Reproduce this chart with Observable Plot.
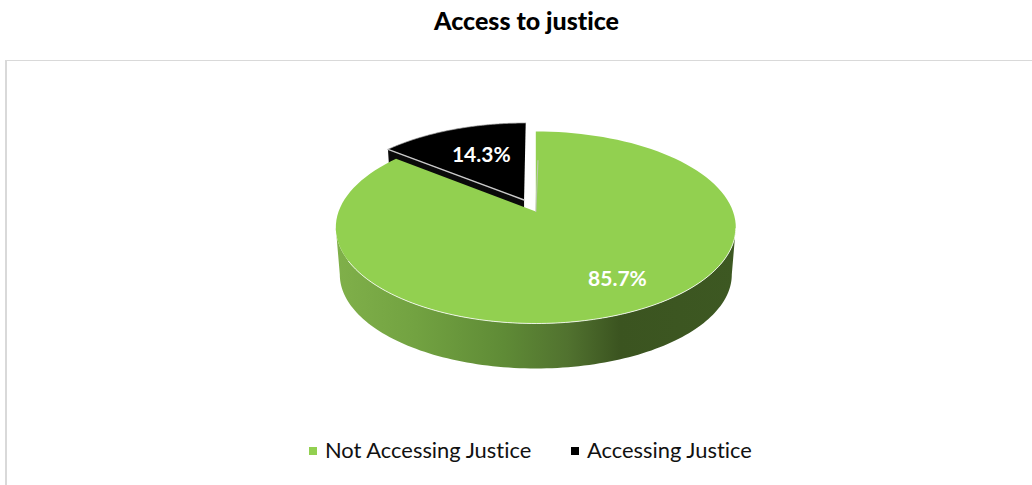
<!DOCTYPE html>
<html>
<head>
<meta charset="utf-8">
<script src="https://cdn.jsdelivr.net/npm/d3@7"></script>
<script src="https://cdn.jsdelivr.net/npm/@observablehq/plot@0.6"></script>
<style>
  html, body { margin: 0; padding: 0; background: #fff; overflow: hidden; }
  #page { position: relative; width: 1032px; height: 485px; font-family: Lato, "Open Sans", sans-serif; font-variant-ligatures: none; }
  #title { position: absolute; left: 0; top: 5px; width: 1053px; text-align: center; font-size: 25px; font-weight: 900; color: #000; line-height: 30px; }
  #frame { position: absolute; left: 5px; top: 60px; right: 0; bottom: 0; border-top: 1px solid #d9d9d9; border-left: 2px solid #d9d9d9; }
  #chart { position: absolute; left: 0; top: 60px; }
  #chart svg { display: block; }
  #legend { position: absolute; left: 0; top: 436px; width: 1032px; height: 30px; font-size: 21.9px; color: #111; }
  #legend span { position: absolute; top: 0; line-height: 28px; white-space: nowrap; }
  #legend i { position: absolute; top: 11px; width: 8px; height: 8px; }
</style>
</head>
<body>
<div id="page">
  <div id="title">Access to justice</div>
  <div id="frame"></div>
  <div id="chart"></div>
  <div id="legend"></div>
</div>
<script>
// Slices, in clockwise order from twelve o'clock.
const categories = ["Not Accessing Justice", "Accessing Justice"];
const shares = [85.7, 14.3];
const sliceColors = ["#92d050", "#000000"];

// Tilted disc: how much nearer the front rim looks than the back rim,
// how far the lifted slice is pulled out, and how the disc's underside sits.
const perspective = 1 / 6;
const explode = 0.14;
const floorScale = 0.98;
const floorDrop = 0.506;

const total = d3.sum(shares);
const turn = (s) => (s / total) * 2 * Math.PI;
const stops = d3.cumsum(shares).map(turn);
const slices = categories.map((name, i) => {
  const a0 = i ? stops[i - 1] : 0;
  const a1 = stops[i];
  const mid = (a0 + a1) / 2;
  return {
    name, share: shares[i], color: sliceColors[i], a0, a1,
    ox: i ? explode * Math.sin(mid) : 0,
    oy: i ? explode * Math.cos(mid) : 0,
    mid
  };
});

// Project a point of the disc plane to the chart's x/y scale units.
function project(u, v, floor = false) {
  const w = 1 + perspective * v;
  const s = floor ? floorScale : 1;
  return { x: (s * u) / w, y: (s * v) / w - (floor ? floorDrop : 0) };
}
const rimPoint = (a, ox = 0, oy = 0, floor = false) =>
  project(Math.sin(a) + ox, Math.cos(a) + oy, floor);
const arc = (a0, a1, ox, oy, floor) =>
  d3.range(0, 121).map((i) => rimPoint(a0 + ((a1 - a0) * i) / 120, ox, oy, floor));
const wedge = (s) => [project(s.ox, s.oy), ...arc(s.a0, s.a1, s.ox, s.oy, false)];

const [main, lifted] = slices;

// Curved wall between the widest points of the top face.
const widest = Math.acos(-perspective);
const wall = [
  ...arc(widest, 2 * Math.PI - widest, 0, 0, false),
  ...arc(2 * Math.PI - widest, widest, 0, 0, true)
];

// Straight cut face of the lifted slice, mostly hidden behind the large slice.
const cutFace = [
  project(lifted.ox, lifted.oy),
  rimPoint(lifted.a0, lifted.ox, lifted.oy),
  rimPoint(lifted.a0, lifted.ox, lifted.oy, true),
  project(lifted.ox, lifted.oy, true)
];

// Points for the percentage labels, along each slice's bisector.
const labelAt = (s, r) => project(s.ox + r * Math.sin(s.mid), s.oy + r * Math.cos(s.mid));
const mainLabel = { ...labelAt(main, 0.72), text: main.share.toFixed(1) + "%" };
const liftedLabel = { ...labelAt(lifted, 0.6), text: lifted.share.toFixed(1) + "%" };

// Horizontal shading along the wall.
const wallShade = () => {
  const defs = d3.create("svg:defs");
  const g = defs.append("linearGradient").attr("id", "wall-shade");
  [[0, "#80b04a"], [0.2, "#72a241"], [0.42, "#5f8b36"], [0.58, "#51722f"], [0.71, "#3b5420"], [1, "#3d5822"]]
    .forEach(([o, c]) => g.append("stop").attr("offset", o).attr("stop-color", c));
  return defs.node();
};

const shape = (pts, opts) => Plot.line(pts, { x: "x", y: "y", curve: "linear", ...opts });

const chart = Plot.plot({
  width: 1032,
  height: 365,
  margin: 0,
  x: { axis: null, domain: [-1, 1], range: [338.1, 732.5] },
  y: { axis: null, domain: [-1, 1], range: [244.33, 57.67] },
  marks: [
    wallShade,
    shape(cutFace, { fill: "#0a0a0a", stroke: "none" }),
    shape(wedge(lifted), { fill: lifted.color, stroke: "none" }),
    // Light bevel along the slice's lower edge and its back rim.
    shape([project(lifted.ox, lifted.oy), rimPoint(lifted.a0, lifted.ox, lifted.oy)], { stroke: "#c9c9c9", strokeWidth: 1.4 }),
    shape(arc(lifted.a0, lifted.a1, lifted.ox, lifted.oy, false), { stroke: "#9a9a9a", strokeWidth: 0.7 }),
    shape(wall, { fill: "url(#wall-shade)", stroke: "none" }),
    shape(wedge(main), { fill: main.color, stroke: "none" }),
    // Highlight on the front rim of the top face and on the cut by the gap.
    shape(arc(1.75, 4.2, 0, 0, false), { stroke: "#ffffff", strokeOpacity: 0.8, strokeWidth: 1 }),
    shape([project(0, 0), project(0.012, 0.6)], { stroke: "#c4c4c4", strokeWidth: 1.2, strokeOpacity: 0.8 }),
    Plot.text([mainLabel], { x: "x", y: "y", text: "text", dx: 12.5, fill: "#fff", fontWeight: 700, fontSize: 21, fontFamily: "Lato" }),
    Plot.text([liftedLabel], { x: "x", y: "y", text: "text", dx: 2.5, fill: "#fff", fontWeight: 700, fontSize: 21, fontFamily: "Lato" })
  ]
});
document.getElementById("chart").append(chart);

// Legend under the chart.
const legendLeft = [325, 587];
const legend = d3.select("#legend");
slices.forEach((s, i) => {
  legend.append("i").style("left", legendLeft[i] - 16 + "px").style("background", s.color);
  legend.append("span").style("left", legendLeft[i] + "px").text(s.name);
});
</script>
</body>
</html>
